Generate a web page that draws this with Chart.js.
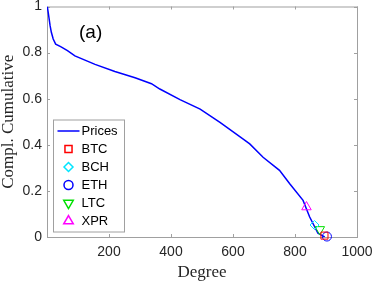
<!DOCTYPE html>
<html>
<head>
<meta charset="utf-8">
<script src="https://cdn.jsdelivr.net/npm/chart.js@4/dist/chart.umd.min.js"></script>
<style>
  html, body { margin: 0; padding: 0; background: #fff; }
  canvas { display: block; }
</style>
</head>
<body>
<canvas id="chart" width="374" height="281"></canvas>
<script>
// complementary cumulative distribution of the degree (Prices network)
const degree = [1, 4, 7, 10, 14, 20, 28, 44, 66, 90, 155, 219, 284, 337, 364, 429, 494, 558, 633, 654, 697, 750, 783, 826, 847, 874, 896];
const complCumulative = [1.0, 0.974, 0.945, 0.917, 0.888, 0.859, 0.837, 0.826, 0.809, 0.786, 0.749, 0.718, 0.691, 0.665, 0.642, 0.596, 0.555, 0.497, 0.425, 0.404, 0.346, 0.289, 0.231, 0.159, 0.088, 0.016, 0.0];

// single coins
const coinNames = ['BTC', 'BCH', 'ETH', 'LTC', 'XPR'];
const coinDegree = [895, 863, 903, 880, 837];
const coinCompl = [0.006, 0.052, 0.002, 0.033, 0.13];

const xTicks = [200, 400, 600, 800, 1000];
const yTicks = [0, 0.2, 0.4, 0.6, 0.8, 1];

const coinLook = {
  BTC: { color: '#ff0000', style: 'rect', rotation: 0, radius: 5 },
  BCH: { color: '#00e5ff', style: 'rectRot', rotation: 0, radius: 4.5 },
  ETH: { color: '#0000ff', style: 'circle', rotation: 0, radius: 4.5 },
  LTC: { color: '#00e000', style: 'triangle', rotation: 180, radius: 5.5 },
  XPR: { color: '#ff00ff', style: 'triangle', rotation: 0, radius: 5.5 },
};

const sans = 'Liberation Sans';
const serif = 'Liberation Serif';
const frameColor = '#a0a0a0';

const axesBox = {
  id: 'axesBox',
  beforeDatasetsDraw(chart) {
    const { ctx, chartArea: a, scales: { x, y } } = chart;
    ctx.save();
    ctx.strokeStyle = frameColor;
    ctx.lineWidth = 1;
    ctx.strokeRect(a.left + 0.5, a.top + 0.5, a.right - a.left, a.bottom - a.top);
    ctx.beginPath();
    x.ticks.forEach(t => {
      const px = Math.round(x.getPixelForValue(t.value)) + 0.5;
      ctx.moveTo(px, a.bottom); ctx.lineTo(px, a.bottom - 3);
      ctx.moveTo(px, a.top); ctx.lineTo(px, a.top + 3);
    });
    y.ticks.forEach(t => {
      const py = Math.round(y.getPixelForValue(t.value)) + 0.5;
      ctx.moveTo(a.left, py); ctx.lineTo(a.left + 3, py);
      ctx.moveTo(a.right, py); ctx.lineTo(a.right - 3, py);
    });
    ctx.stroke();
    ctx.restore();
  },
  afterDraw(chart) {
    const { ctx, chartArea: a } = chart;
    ctx.save();
    // panel label
    ctx.fillStyle = '#000';
    ctx.font = `19px "${sans}"`;
    ctx.textBaseline = 'middle';
    ctx.textAlign = 'left';
    ctx.fillText('(a)', a.left + 32, 33);

    // legend, lower left inside the axes
    const bx = a.left + 6.5, by = a.top + 113.5, bw = 71, bh = 112;
    ctx.fillStyle = '#fff';
    ctx.fillRect(bx, by, bw, bh);
    ctx.strokeStyle = frameColor;
    ctx.lineWidth = 1;
    ctx.strokeRect(bx, by, bw, bh);

    ctx.font = `13px "${sans}"`;
    chart.data.datasets.forEach((ds, i) => {
      const cy = by + 11 + i * 18;
      ctx.strokeStyle = ds.borderColor;
      if (ds.showLine) {
        ctx.lineWidth = 1.5;
        ctx.beginPath();
        ctx.moveTo(bx + 4, cy); ctx.lineTo(bx + 26, cy);
        ctx.stroke();
      } else {
        ctx.fillStyle = 'rgba(0,0,0,0)';
        Chart.helpers.drawPoint(ctx, {
          pointStyle: ds.pointStyle, rotation: ds.pointRotation,
          radius: ds.pointRadius, borderWidth: 1,
        }, bx + 15, cy);
      }
      ctx.fillStyle = '#000';
      ctx.fillText(ds.label, bx + 28, cy + 0.5);
    });
    ctx.restore();
  },
};

const datasets = [{
  label: 'Prices',
  data: degree.map((d, i) => ({ x: d, y: complCumulative[i] })),
  showLine: true,
  borderColor: '#0000ff',
  borderWidth: 1.5,
  pointRadius: 0,
  order: 1,
}];

coinNames.forEach((name, i) => {
  const look = coinLook[name];
  datasets.push({
    label: name,
    data: [{ x: coinDegree[i], y: coinCompl[i] }],
    showLine: false,
    borderColor: look.color,
    backgroundColor: 'rgba(0,0,0,0)',
    borderWidth: 1,
    pointStyle: look.style,
    pointRotation: look.rotation,
    pointRadius: look.radius,
    clip: false,
    order: 0,
  });
});

new Chart(document.getElementById('chart'), {
  type: 'scatter',
  data: { datasets },
  plugins: [axesBox],
  options: {
    responsive: false,
    devicePixelRatio: 1,
    animation: false,
    layout: { padding: { top: 6, right: 17, left: 0, bottom: 0 } },
    plugins: { legend: { display: false }, tooltip: { enabled: false } },
    scales: {
      x: {
        type: 'linear',
        min: 0,
        max: 1000,
        afterBuildTicks: (s) => { s.ticks = xTicks.map(v => ({ value: v })); },
        afterFit: (s) => { s.height = 44; s.paddingLeft = 0; s.paddingRight = 0; },
        grid: { display: false, drawTicks: false },
        border: { display: false },
        ticks: {
          color: '#262626', padding: 7, maxRotation: 0, font: { size: 14, family: sans },
          callback: (v) => String(v),
        },
        title: { display: true, text: 'Degree', color: '#262626', padding: 0, font: { size: 17, family: serif, lineHeight: 1 } },
      },
      y: {
        type: 'linear',
        min: 0,
        max: 1,
        afterBuildTicks: (s) => { s.ticks = yTicks.map(v => ({ value: v })); },
        afterFit: (s) => { s.width = 47; s.paddingTop = 0; s.paddingBottom = 0; },
        grid: { display: false, drawTicks: false },
        border: { display: false },
        ticks: {
          color: '#262626', padding: 5, font: { size: 14, family: sans },
          callback: (v) => (v === 0 || v === 1) ? String(v) : v.toFixed(1),
        },
        title: { display: true, text: 'Compl. Cumulative', color: '#262626', padding: 0, font: { size: 17, family: serif, lineHeight: 1 } },
      },
    },
  },
});
</script>
</body>
</html>
